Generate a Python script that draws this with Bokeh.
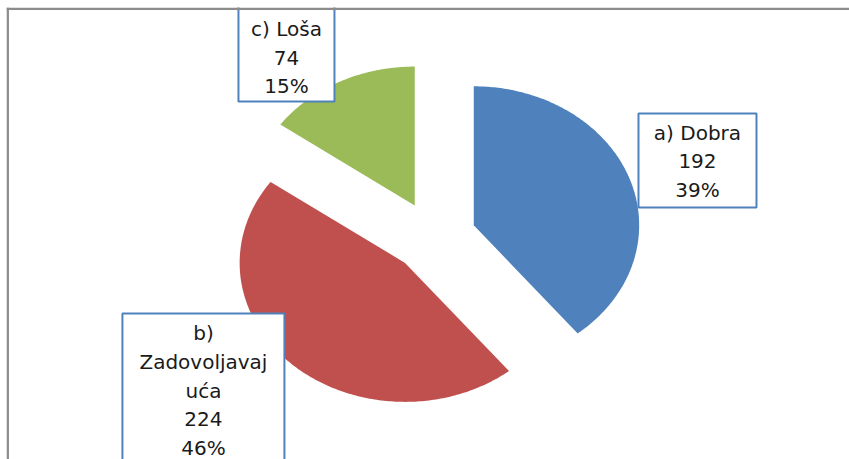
import numpy as np
from bokeh.plotting import figure
from bokeh.models import Range1d, Span, ColumnDataSource
from bokeh.core.properties import value
from bokeh.embed import file_html
from bokeh.resources import INLINE

# ---- data ----
categories = ["a) Dobra", "b) Zadovoljavajuća", "c) Loša"]
category_lines = [["a) Dobra"], ["b)", "Zadovoljavaj", "uća"], ["c) Loša"]]
counts = [192, 224, 74]
colors = ["#4f81bd", "#c0504d", "#9bbb59"]

# ---- layout ----
W, H = 849, 459
ML, MT = 6, 7                      # space left/above the chart frame
cx_px, cy_px = 433.5 - ML, 236.6 - MT   # pie centre in frame pixels
FW, FH = W - ML, H - MT
sx, sy = 165.4, 139.0              # pixels per unit (pie drawn slightly stretched)
explode = 0.255                    # explosion as fraction of radius
line_step = 28.7                   # label line spacing (px)

# label centres (in pie units) and box sizes (screen px)
label_pos = [(1.593, 0.544), (-1.394, -1.104), (-0.892, 1.292)]
box_pos = [(1.593, 0.551), (-1.394, -1.104), (-0.892, 1.371)]
box_size = [(118, 94), (162, 154), (96, 110)]

total = float(sum(counts))
fracs = np.array(counts) / total
ends = np.cumsum(fracs) * 2 * np.pi
starts = ends - fracs * 2 * np.pi

xs, ys = [], []
for a0, a1 in zip(starts, ends):
    m = 0.5 * (a0 + a1)
    ox, oy = explode * np.sin(m), explode * np.cos(m)
    t = np.linspace(a0, a1, 200)
    xs.append(list(np.concatenate([[ox], ox + np.sin(t), [ox]])))
    ys.append(list(np.concatenate([[oy], oy + np.cos(t), [oy]])))

x0, x1 = -cx_px / sx, (FW - cx_px) / sx
y0, y1 = -(FH - cy_px) / sy, cy_px / sy

p = figure(width=W, height=H, output_backend="svg", toolbar_location=None,
           x_range=Range1d(x0, x1), y_range=Range1d(y0, y1),
           min_border=0, min_border_left=ML, min_border_top=MT,
           outline_line_color=None,
           background_fill_color="white", border_fill_color="white")
p.axis.visible = False
p.grid.visible = False

p.patches(xs, ys, fill_color=colors, line_color=None)

# label boxes
bsrc = ColumnDataSource(dict(
    x=[q[0] for q in box_pos], y=[q[1] for q in box_pos],
    w=[b[0] for b in box_size], h=[b[1] for b in box_size]))
p.rect(x="x", y="y", width="w", height="h", width_units="screen", height_units="screen",
       source=bsrc, fill_color="white", line_color="#4f81bd", line_width=2)

# chart border (top and left edges visible in the reference)
p.add_layout(Span(location=y1 - 1.2 / sy, dimension="width",
                  line_color="#8c8c8c", line_width=2.5))
p.add_layout(Span(location=x0 + 1.2 / sx, dimension="height",
                  line_color="#8c8c8c", line_width=2.5))

# label texts, one row per line
tx, ty, toff, ttext = [], [], [], []
for (lx, ly), lines, n in zip(label_pos, category_lines, counts):
    rows = lines + [str(n), f"{round(100 * n / total)}%"]
    k0 = (len(rows) - 1) / 2
    for k, r in enumerate(rows):
        tx.append(lx)
        ty.append(ly)
        toff.append((k - k0) * line_step)
        ttext.append(r)
tsrc = ColumnDataSource(dict(x=tx, y=ty, off=toff, text=ttext))
p.text(x="x", y="y", y_offset="off", text="text", source=tsrc, text_align="center",
       text_baseline="middle", text_font=value("DejaVu Sans"), text_font_size="20px",
       text_color="#1a1a1a")

open("out.html", "w").write(file_html(p, INLINE))
